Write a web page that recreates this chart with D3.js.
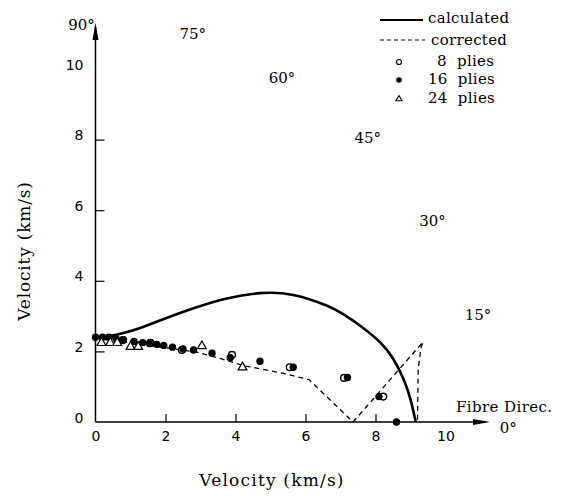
<!DOCTYPE html>
<html><head><meta charset="utf-8">
<script src="https://cdn.jsdelivr.net/npm/d3@7"></script>
<style>body{margin:0;background:#fff}svg{display:block}</style>
</head><body>
<svg id="c" width="570" height="496"></svg>
<script>
// ---- data ----
const calcX = [0, 0.4, 0.8, 1.3, 1.8, 2.8, 3.75, 4.7, 5.65, 6.6, 7.1, 7.6, 8.13, 8.5, 8.8, 9.0, 9.15];
const calcY = [2.41, 2.44, 2.52, 2.67, 2.86, 3.22, 3.5, 3.65, 3.6, 3.3, 3.04, 2.7, 2.26, 1.8, 1.22, 0.64, 0];
const corrX = [0, 1.5, 2.9, 3.56, 4.21, 5.27, 6.1, 7.36, 9.36, 9.3, 9.22, 9.2];
const corrY = [2.38, 2.17, 1.98, 1.8, 1.6, 1.4, 1.2, 0, 2.27, 2.1, 1.5, 0];
const p8X = [0.78, 1.57, 2.47, 3.9, 5.55, 7.1, 8.22];
const p8Y = [2.32, 2.24, 2.04, 1.9, 1.55, 1.25, 0.72];
const p16X = [0, 0.2, 0.38, 0.58, 0.8, 1.1, 1.35, 1.55, 1.75, 1.95, 2.2, 2.5, 2.8, 3.33, 3.85, 4.7, 5.65, 7.2, 8.1, 8.6];
const p16Y = [2.4, 2.4, 2.4, 2.38, 2.33, 2.28, 2.25, 2.22, 2.2, 2.17, 2.12, 2.07, 2.04, 1.95, 1.82, 1.72, 1.55, 1.26, 0.72, 0];
const p24X = [0.17, 0.42, 0.62, 1.0, 1.22, 3.04, 4.2];
const p24Y = [2.24, 2.24, 2.24, 2.13, 2.13, 2.15, 1.55];
const xTicks = [0, 2, 4, 6, 8, 10];
const yTicks = [0, 2, 4, 6, 8, 10];
const angleLabels = ["90°", "75°", "60°", "45°", "30°", "15°", "0°"];
const angleX = [-0.78, 2.4, 4.95, 7.4, 9.25, 10.55, 11.55];
const angleY = [11.1, 10.85, 9.6, 7.9, 5.55, 2.9, -0.3];
const legendLabels = ["calculated", "corrected", "8  plies", "16  plies", "24  plies"];

// ---- setup ----
const svg = d3.select("#c");
const serif = "'DejaVu Serif', 'Liberation Serif', serif";
const x = d3.scaleLinear().domain([0, 10]).range([95.5, 445.5]);
const y = d3.scaleLinear().domain([0, 10]).range([422, 69]);

// axes
const xAxis = d3.axisBottom(x).tickValues(xTicks).tickSize(-8).tickPadding(0).tickFormat(d3.format("d"));
const gx = svg.append("g").attr("transform", `translate(0,${y(0)})`).call(xAxis);
gx.select(".domain").remove();
gx.selectAll(".tick line").attr("stroke", "#000").attr("stroke-width", 1.2)
  .filter(d => d === 0 || d === 10).remove();
gx.selectAll(".tick text").attr("y", 19).attr("dy", 0)
  .attr("font-family", "'DejaVu Sans', sans-serif").attr("font-size", 14).attr("fill", "#000");

const yAxis = d3.axisLeft(y).tickValues(yTicks).tickSize(-9).tickPadding(0).tickFormat(d3.format("d"));
const gy = svg.append("g").attr("transform", `translate(${x(0)},0)`).call(yAxis);
gy.select(".domain").remove();
gy.selectAll(".tick line").attr("stroke", "#000").attr("stroke-width", 1.2)
  .filter(d => d === 0 || d === 10).remove();
gy.selectAll(".tick text").attr("x", -12).attr("dy", 0)
  .attr("font-family", "'DejaVu Sans', sans-serif").attr("font-size", 14).attr("fill", "#000");

// axis lines with arrows
const x0 = x(0), y0 = y(0);
const xEnd = 490, yEnd = 23;
svg.append("line").attr("x1", x0).attr("y1", y0).attr("x2", xEnd - 4).attr("y2", y0)
  .attr("stroke", "#000").attr("stroke-width", 1.5);
svg.append("line").attr("x1", x0).attr("y1", y0).attr("x2", x0).attr("y2", yEnd + 4)
  .attr("stroke", "#000").attr("stroke-width", 1.5);
svg.append("path").attr("d", `M${xEnd},${y0} L${xEnd - 17},${y0 - 3} L${xEnd - 17},${y0 + 3} Z`).attr("fill", "#000");
svg.append("path").attr("d", `M${x0},${yEnd} L${x0 - 3},${yEnd + 17} L${x0 + 3},${yEnd + 17} Z`).attr("fill", "#000");

// lines
const calc = calcX.map((v, i) => [v, calcY[i]]);
const corr = corrX.map((v, i) => [v, corrY[i]]);
svg.append("path").datum(calc)
  .attr("d", d3.line().x(d => x(d[0])).y(d => y(d[1])).curve(d3.curveNatural))
  .attr("fill", "none").attr("stroke", "#000").attr("stroke-width", 2.6);
svg.append("path").datum(corr)
  .attr("d", d3.line().x(d => x(d[0])).y(d => y(d[1])))
  .attr("fill", "none").attr("stroke", "#000").attr("stroke-width", 1.3).attr("stroke-dasharray", "5,4");

// markers
const tri = d3.symbol().type(d3.symbolTriangle);
svg.append("g").selectAll("circle").data(p8X.map((v, i) => [v, p8Y[i]])).join("circle")
  .attr("cx", d => x(d[0])).attr("cy", d => y(d[1])).attr("r", 3.4)
  .attr("fill", "#fff").attr("stroke", "#000").attr("stroke-width", 1.4);
svg.append("g").selectAll("circle").data(p16X.map((v, i) => [v, p16Y[i]])).join("circle")
  .attr("cx", d => x(d[0])).attr("cy", d => y(d[1])).attr("r", 3.7).attr("fill", "#000");
svg.append("g").selectAll("path").data(p24X.map((v, i) => [v, p24Y[i]])).join("path")
  .attr("d", tri.size(34)).attr("transform", d => `translate(${x(d[0])},${y(d[1])})`)
  .attr("fill", "#fff").attr("stroke", "#000").attr("stroke-width", 1.2);

// angle labels
svg.append("g").selectAll("text").data(angleLabels).join("text")
  .attr("x", (d, i) => x(angleX[i])).attr("y", (d, i) => y(angleY[i]))
  .attr("font-family", serif).attr("font-size", 15).attr("fill", "#000").text(d => d);

svg.append("text").attr("x", 456).attr("y", 412).attr("font-family", serif)
  .attr("font-size", 15).attr("letter-spacing", 0.4).attr("fill", "#000").text("Fibre Direc.");

// axis titles
svg.append("text").attr("x", 272).attr("y", 486).attr("text-anchor", "middle")
  .attr("font-family", serif).attr("font-size", 17).attr("letter-spacing", 1.2).attr("fill", "#000").text("Velocity (km/s)");
svg.append("text").attr("transform", "translate(30,251) rotate(-90)").attr("text-anchor", "middle")
  .attr("font-family", serif).attr("font-size", 17).attr("letter-spacing", 0.8).attr("fill", "#000").text("Velocity (km/s)");

// legend
const lg = svg.append("g").attr("font-family", serif).attr("font-size", 15).attr("fill", "#000");
lg.append("line").attr("x1", 380).attr("x2", 423).attr("y1", 20).attr("y2", 20).attr("stroke", "#000").attr("stroke-width", 2);
lg.append("line").attr("x1", 380).attr("x2", 425).attr("y1", 40).attr("y2", 40).attr("stroke", "#000").attr("stroke-width", 1.2).attr("stroke-dasharray", "4,3");
lg.append("circle").attr("cx", 399).attr("cy", 62).attr("r", 2.5).attr("fill", "#fff").attr("stroke", "#000").attr("stroke-width", 1.2);
lg.append("circle").attr("cx", 399).attr("cy", 80).attr("r", 2.8).attr("fill", "#000");
lg.append("path").attr("d", tri.size(16)).attr("transform", "translate(399,99)").attr("fill", "#fff").attr("stroke", "#000").attr("stroke-width", 1.1);
const lgX = [428, 431, 437, 428, 428];
const lgY = [23, 45, 66, 84, 103];
lg.selectAll("text").data(legendLabels).join("text")
  .attr("x", (d, i) => lgX[i]).attr("y", (d, i) => lgY[i]).attr("letter-spacing", 0.3)
  .style("white-space", "pre").text(d => d);
</script>
</body></html>
